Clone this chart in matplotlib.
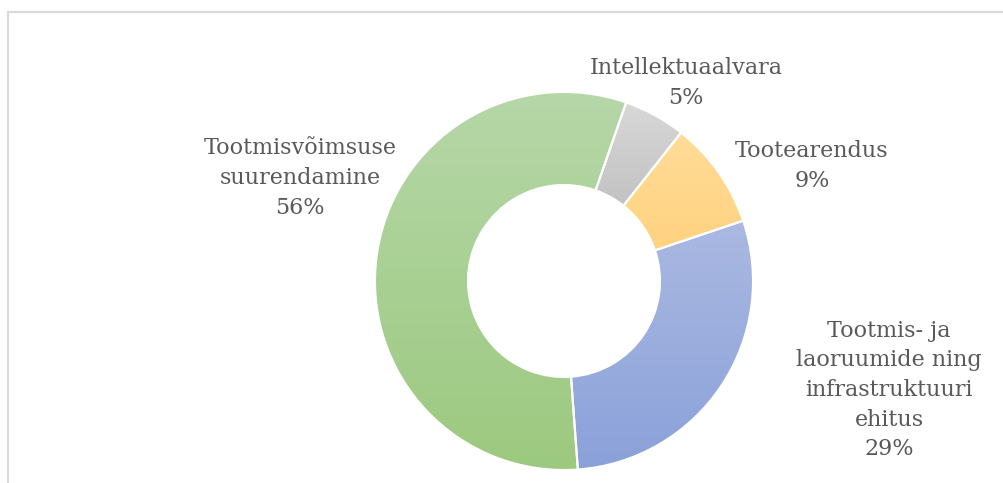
import numpy as np
import matplotlib
matplotlib.use("Agg")
import matplotlib.pyplot as plt
from matplotlib.colors import LinearSegmentedColormap
from matplotlib.patches import Rectangle

labels = ["Intellektuaalvara", "Tootearendus",
          "Tootmis- ja\nlaoruumide ning\ninfrastruktuuri\nehitus",
          "Tootmisvõimsuse\nsuurendamine"]
shares = [5.3, 9.2, 29.0, 56.5]
# top / bottom colours of each slice gradient
tops = ["#d8d8d8", "#ffdc98", "#abb9e2", "#b6d7a8"]
bottoms = ["#c2c2c2", "#ffd27f", "#8aa1d9", "#9cc97f"]
label_pos = [(686, 400), (812, 317), (889, 93), (300, 305)]

fig = plt.figure(figsize=(10.04, 4.83), dpi=100)
ax = fig.add_axes([0, 0, 1, 1])

wedges, _ = ax.pie(shares, center=(564, 202), radius=189, startangle=70.8,
                   counterclock=False,
                   wedgeprops=dict(width=93, edgecolor="white", linewidth=1.5))
ax.set_aspect("equal")
ax.axis("off")

grad = np.linspace(0, 1, 256).reshape(-1, 1)
for w, t, b in zip(wedges, tops, bottoms):
    bb = w.get_path().get_extents()
    cm = LinearSegmentedColormap.from_list("g", [b, t])
    im = ax.imshow(grad, extent=[bb.x0, bb.x1, bb.y0, bb.y1], origin="lower",
                   cmap=cm, aspect="auto", zorder=1.5, interpolation="bilinear")
    im.set_clip_path(w)
    w.set_facecolor("none")
    w.set_zorder(2)
ax.set_xlim(0, 1004)
ax.set_ylim(0, 483)

for lab, s, (x, y) in zip(labels, shares, label_pos):
    ax.text(x, y, f"{lab}\n{s:.0f}%", ha="center", va="center", fontsize=16,
            family="DejaVu Serif", color="#595959", linespacing=1.45)

# chart area border
fig.add_artist(Rectangle((8.5 / 1004, -0.1), 1.2, (470.5 / 483) + 0.1,
                         transform=fig.transFigure, fill=False,
                         edgecolor="#d9d9d9", linewidth=1.5))

fig.savefig("out.png", dpi=100)
